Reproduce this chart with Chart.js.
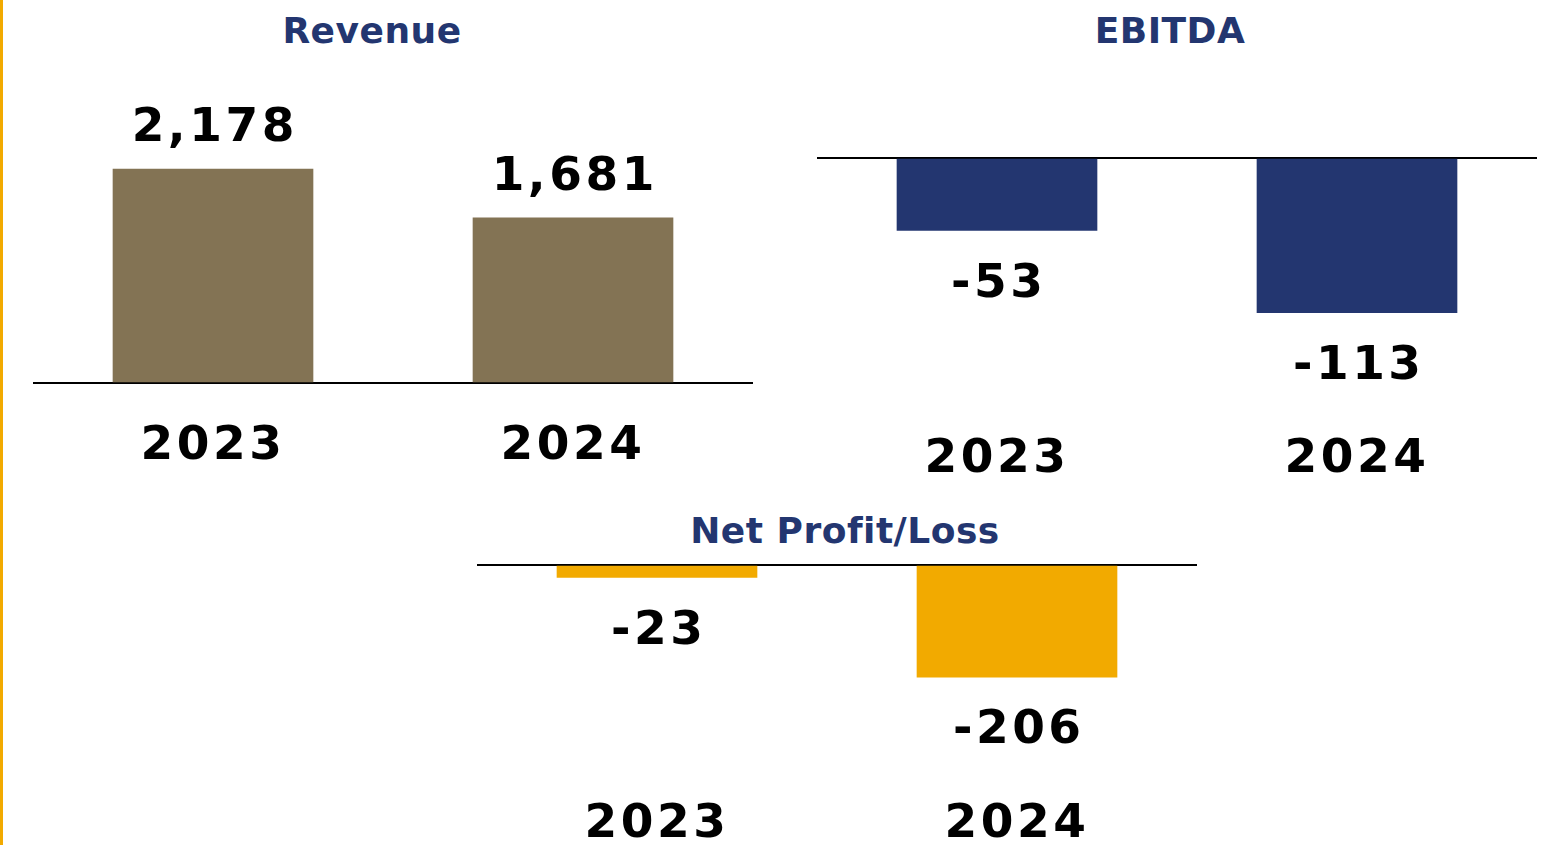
<!DOCTYPE html>
<html>
<head>
<meta charset="utf-8">
<script src="https://cdn.jsdelivr.net/npm/chart.js@4.4.1/dist/chart.umd.min.js"></script>
<style>
  html, body { margin: 0; padding: 0; background: #fff; }
  body { width: 1553px; height: 845px; position: relative; overflow: hidden; }
  .edge { position: absolute; left: 0; top: 0; width: 3px; height: 845px; background: #f2aa00; }
  canvas { position: absolute; }
  .title {
    position: absolute; width: 400px; text-align: center; white-space: nowrap;
    font-family: 'DejaVu Sans', sans-serif; font-weight: bold;
    font-size: 36px; line-height: 36px; letter-spacing: 0.5px; color: #233670;
  }
</style>
</head>
<body>
<div class="edge"></div>

<div class="title" style="left:172px; top:13px;">Revenue</div>
<div class="title" style="left:970px; top:13px;">EBITDA</div>
<div class="title" style="left:645px; top:513px;">Net Profit/Loss</div>

<canvas id="revenue" width="790" height="500" style="left:0px; top:0px;"></canvas>
<canvas id="ebitda" width="790" height="500" style="left:784px; top:0px;"></canvas>
<canvas id="net" width="790" height="465" style="left:444px; top:380px;"></canvas>

<script>
const years = ['2023', '2024'];
const revenue = [2178, 1681];
const ebitda = [-53, -113];
const netResult = [-23, -206];

const numFont = "'DejaVu Sans', sans-serif";
const numSize = 47;
const gap = 3.5;

// letter spacing for everything drawn on the canvas
const spacing = {
  id: 'spacing',
  beforeDraw(chart) { chart.ctx.letterSpacing = gap + 'px'; }
};

// value above positive bars, below negative ones
const valueLabels = {
  id: 'valueLabels',
  afterDatasetsDraw(chart) {
    const ctx = chart.ctx;
    const meta = chart.getDatasetMeta(0);
    const data = chart.data.datasets[0].data;
    ctx.save();
    ctx.letterSpacing = gap + 'px';
    ctx.font = 'bold ' + numSize + 'px ' + numFont;
    ctx.fillStyle = '#000';
    ctx.textAlign = 'center';
    ctx.textBaseline = 'alphabetic';
    meta.data.forEach((bar, i) => {
      const v = data[i];
      const cy = v >= 0 ? bar.y - 45 : bar.y + 49;
      ctx.fillText(v.toLocaleString('en-US'), bar.x + gap / 2, cy + numSize * 0.729 / 2);
    });
    ctx.restore();
  }
};

function barChart(id, values, color, yMin, yMax, padTop, axisHeight) {
  return new Chart(document.getElementById(id), {
    type: 'bar',
    data: {
      labels: years,
      datasets: [{ data: values, backgroundColor: color, barThickness: 200 }]
    },
    options: {
      responsive: false,
      animation: false,
      layout: { padding: { left: 33, right: 37, top: padTop, bottom: 0 } },
      plugins: { legend: { display: false }, tooltip: { enabled: false } },
      scales: {
        x: {
          grid: { display: false },
          border: { display: false },
          ticks: {
            color: '#000',
            padding: 32,
            font: { family: numFont, weight: 'bold', size: numSize, lineHeight: 1 }
          },
          afterFit: s => { s.height = axisHeight; }
        },
        y: {
          min: yMin,
          max: yMax,
          z: 1,
          border: { display: false },
          ticks: { display: false },
          grid: { color: '#000', lineWidth: 2, drawTicks: false },
          afterBuildTicks: s => { s.ticks = [{ value: 0 }]; }
        }
      }
    },
    plugins: [spacing, valueLabels]
  });
}

barChart('revenue', revenue, '#837354', 0, 2800, 108, 117);
barChart('ebitda', ebitda, '#233670', -174, 0, 158, 104);
barChart('net', netResult, '#f2aa00', -360, 0, 185, 84);
</script>
</body>
</html>
